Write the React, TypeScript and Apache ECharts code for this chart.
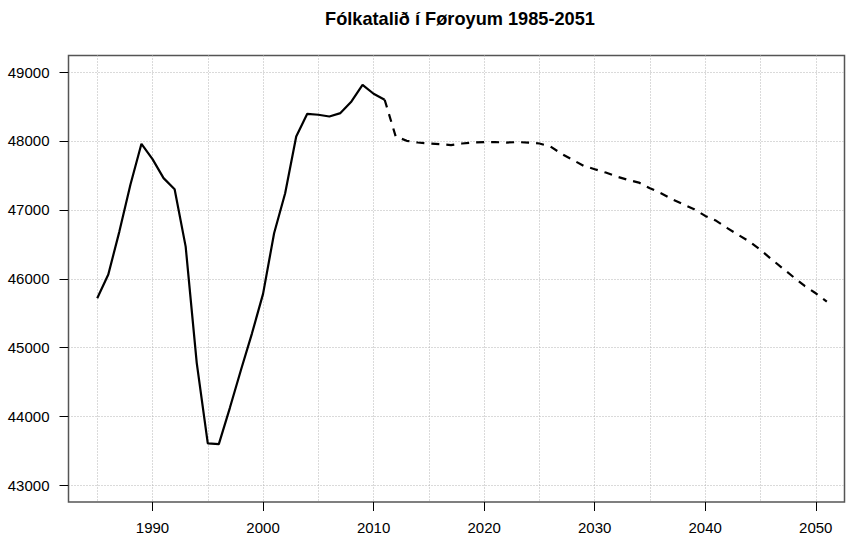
import React, { useEffect, useRef } from "react";
import * as echarts from "echarts";

const titleText = "Fólkatalið í Føroyum 1985-2051";

const yearsObserved = [
  1985, 1986, 1987, 1988, 1989, 1990, 1991, 1992, 1993, 1994, 1995, 1996, 1997,
  1998, 1999, 2000, 2001, 2002, 2003, 2004, 2005, 2006, 2007, 2008, 2009, 2010,
  2011,
];
const popObserved = [
  45717, 46061, 46684, 47363, 47958, 47736, 47460, 47300, 46466, 44780, 43610,
  43600, 44127, 44675, 45208, 45780, 46661, 47242, 48065, 48394, 48380, 48355,
  48404, 48573, 48815, 48685, 48598,
];

const yearsProjected = [
  2011, 2012, 2013, 2014, 2015, 2016, 2017, 2018, 2019, 2020, 2021, 2022, 2023,
  2024, 2025, 2026, 2027, 2028, 2029, 2030, 2031, 2032, 2033, 2034, 2035, 2036,
  2037, 2038, 2039, 2040, 2041, 2042, 2043, 2044, 2045, 2046, 2047, 2048, 2049,
  2050, 2051,
];
const popProjected = [
  48598, 48065, 48002, 47977, 47963, 47954, 47940, 47963, 47977, 47983, 47983,
  47977, 47983, 47977, 47963, 47920, 47813, 47726, 47639, 47590, 47541, 47483,
  47435, 47396, 47314, 47242, 47155, 47082, 47010, 46912, 46840, 46734, 46636,
  46539, 46418, 46283, 46152, 46022, 45895, 45789, 45667,
];

const xTickLabels = [1990, 2000, 2010, 2020, 2030, 2040, 2050];
const xGridValues = [
  1985, 1990, 1995, 2000, 2005, 2010, 2015, 2020, 2025, 2030, 2035, 2040, 2045,
  2050,
];
const yTickLabels = [43000, 44000, 45000, 46000, 47000, 48000, 49000];

const X_MIN = 1982.4;
const X_MAX = 2052.6;
const Y_MIN = 42760;
const Y_MAX = 49240;

const FONT = "'Liberation Sans', Arial, sans-serif";
const GRID_COLOR = "#b4b4b4";

export default function App() {
  const ref = useRef<HTMLDivElement>(null);

  useEffect(() => {
    document.body.style.margin = "0";
    if (!ref.current) return;
    const chart = echarts.init(ref.current, undefined, { renderer: "svg" });

    const zip = (xs: number[], ys: number[]) => xs.map((x, i) => [x, ys[i]]);

    chart.setOption({
      animation: false,
      backgroundColor: "#ffffff",
      textStyle: { fontFamily: FONT },
      graphic: [
        {
          type: "text",
          x: 460,
          y: 19,
          silent: true,
          style: {
            text: titleText,
            x: 0,
            y: 0,
            textAlign: "center",
            textVerticalAlign: "middle",
            fontFamily: FONT,
            fontWeight: "bold",
            fontSize: 18.2,
            fill: "#000",
          },
        },
      ],
      grid: {
        left: 68.5,
        right: 1.5,
        top: 55.5,
        bottom: 36,
        show: true,
        borderColor: "#555",
        borderWidth: 1.5,
        backgroundColor: "transparent",
        containLabel: false,
      },
      xAxis: [
        {
          type: "value",
          min: X_MIN,
          max: X_MAX,
          axisLine: { show: false },
          axisTick: {
            show: true,
            length: 9,
            inside: false,
            lineStyle: { color: "#000", width: 1 },
            customValues: xTickLabels,
          },
          axisLabel: {
            show: true,
            customValues: xTickLabels,
            margin: 18,
            fontSize: 15,
            color: "#000",
            fontFamily: FONT,
            formatter: (v: number) => String(v),
          },
          splitLine: { show: false },
        },
        {
          type: "value",
          min: X_MIN,
          max: X_MAX,
          position: "bottom",
          axisLine: { show: false },
          axisTick: { show: false, customValues: xGridValues },
          axisLabel: { show: false, customValues: xGridValues },
          splitLine: {
            show: true,
            lineStyle: { color: GRID_COLOR, width: 1, type: [1, 2] },
          },
        },
      ],
      yAxis: {
        type: "value",
        min: Y_MIN,
        max: Y_MAX,
        axisLine: { show: false },
        axisTick: {
          show: true,
          length: 9,
          lineStyle: { color: "#000", width: 1 },
          customValues: yTickLabels,
        },
        axisLabel: {
          show: true,
          customValues: yTickLabels,
          margin: 19,
          fontSize: 15,
          color: "#000",
          fontFamily: FONT,
          formatter: (v: number) => String(v),
        },
        splitLine: {
          show: true,
          lineStyle: { color: GRID_COLOR, width: 1, type: [1, 2] },
        },
      },
      series: [
        {
          type: "line",
          name: "observed",
          xAxisIndex: 0,
          data: zip(yearsObserved, popObserved),
          symbol: "none",
          lineStyle: { color: "#000", width: 2.2 },
          z: 5,
        },
        {
          type: "line",
          name: "projected",
          xAxisIndex: 0,
          data: zip(yearsProjected, popProjected),
          symbol: "none",
          lineStyle: { color: "#000", width: 2.2, type: [8, 7] },
          z: 5,
        },
      ],
    });

    return () => {
      chart.dispose();
    };
  }, []);

  return <div ref={ref} style={{ width: 846, height: 538 }} />;
}
